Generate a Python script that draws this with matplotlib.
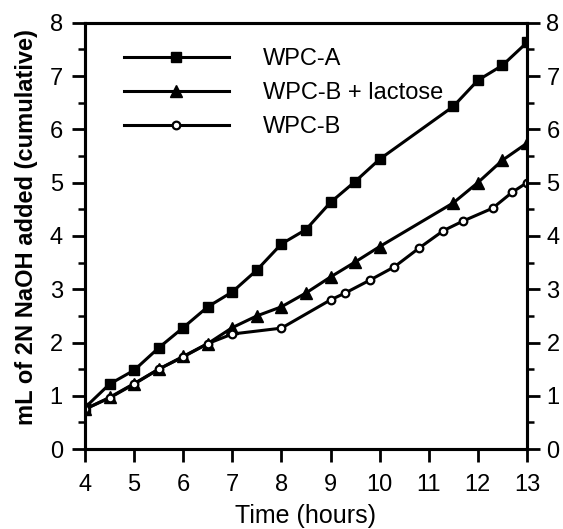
import numpy as np
import matplotlib
matplotlib.use('Agg')
import matplotlib.pyplot as plt
from matplotlib.ticker import MultipleLocator

plt.rcParams.update({'font.family': 'Liberation Sans', 'font.size': 17})

# WPC-A (filled squares)
tA = [4.0, 4.5, 5.0, 5.5, 6.0, 6.5, 7.0, 7.5, 8.0, 8.5, 9.0, 9.5, 10.0, 11.5, 12.0, 12.5, 13.0]
vA = [0.78, 1.22, 1.48, 1.9, 2.28, 2.67, 2.95, 3.36, 3.85, 4.12, 4.63, 5.02, 5.44, 6.43, 6.92, 7.2, 7.63]

# WPC-B + lactose (filled triangles)
tBL = [4.0, 4.5, 5.0, 5.5, 6.0, 6.5, 7.0, 7.5, 8.0, 8.5, 9.0, 9.5, 10.0, 11.5, 12.0, 12.5, 13.0]
vBL = [0.75, 0.97, 1.23, 1.5, 1.74, 1.98, 2.28, 2.5, 2.67, 2.93, 3.23, 3.51, 3.8, 4.62, 5.0, 5.42, 5.74]

# WPC-B (open circles)
tB = [4.0, 4.5, 5.0, 5.5, 6.0, 6.5, 7.0, 8.0, 9.0, 9.3, 9.8, 10.3, 10.8, 11.3, 11.7, 12.3, 12.7, 13.0]
vB = [0.75, 0.96, 1.22, 1.5, 1.73, 1.98, 2.16, 2.27, 2.8, 2.93, 3.17, 3.42, 3.77, 4.1, 4.28, 4.52, 4.82, 5.0]

labels = ['WPC-A', 'WPC-B + lactose', 'WPC-B']

fig = plt.figure(figsize=(5.63, 5.29), dpi=100)
ax = fig.add_axes([0.151, 0.151, 0.785, 0.806])

ax.plot(tA, vA, color='k', lw=2.2, marker='s', ms=7, label=labels[0])
ax.plot(tBL, vBL, color='k', lw=2.2, marker='^', ms=8, label=labels[1])
ax.plot(tB, vB, color='k', lw=2.2, marker='o', ms=5.5, mfc='white', mew=1.6, label=labels[2])

ax.set_xlim(4, 13)
ax.set_ylim(0, 8)
ax.xaxis.set_major_locator(MultipleLocator(1))
ax.yaxis.set_major_locator(MultipleLocator(1))
ax.yaxis.set_minor_locator(MultipleLocator(0.5))

# right axis: same scale, own ticks
ax2 = ax.twinx()
ax2.set_ylim(0, 8)
ax2.yaxis.set_major_locator(MultipleLocator(1))
ax2.yaxis.set_minor_locator(MultipleLocator(0.5))

for a in (ax, ax2):
    for s in a.spines.values():
        s.set_linewidth(2.2)

ax.tick_params(axis='y', which='major', direction='out', length=9.5, width=2, pad=6.5)
ax.tick_params(axis='y', which='minor', direction='out', length=5, width=1.8)
ax2.tick_params(axis='y', which='major', direction='out', length=9.5, width=2, pad=4.5)
ax2.tick_params(axis='y', which='minor', direction='out', length=5, width=1.8)
ax.tick_params(axis='x', which='major', direction='out', length=9.5, width=2, pad=8.5)

ax.set_xlabel('Time (hours)', fontsize=18, labelpad=6)
ax.set_ylabel('mL of 2N NaOH added (cumulative)', fontsize=17, fontweight='bold')
ax.yaxis.set_label_coords(-0.106, 0.52)

ax.legend(loc='upper left', bbox_to_anchor=(0.088, 0.94), frameon=False, fontsize=17,
          handlelength=4.45, handletextpad=1.45, labelspacing=0.5,
          borderpad=0, borderaxespad=0, numpoints=1)

fig.savefig('out.png', dpi=100)
